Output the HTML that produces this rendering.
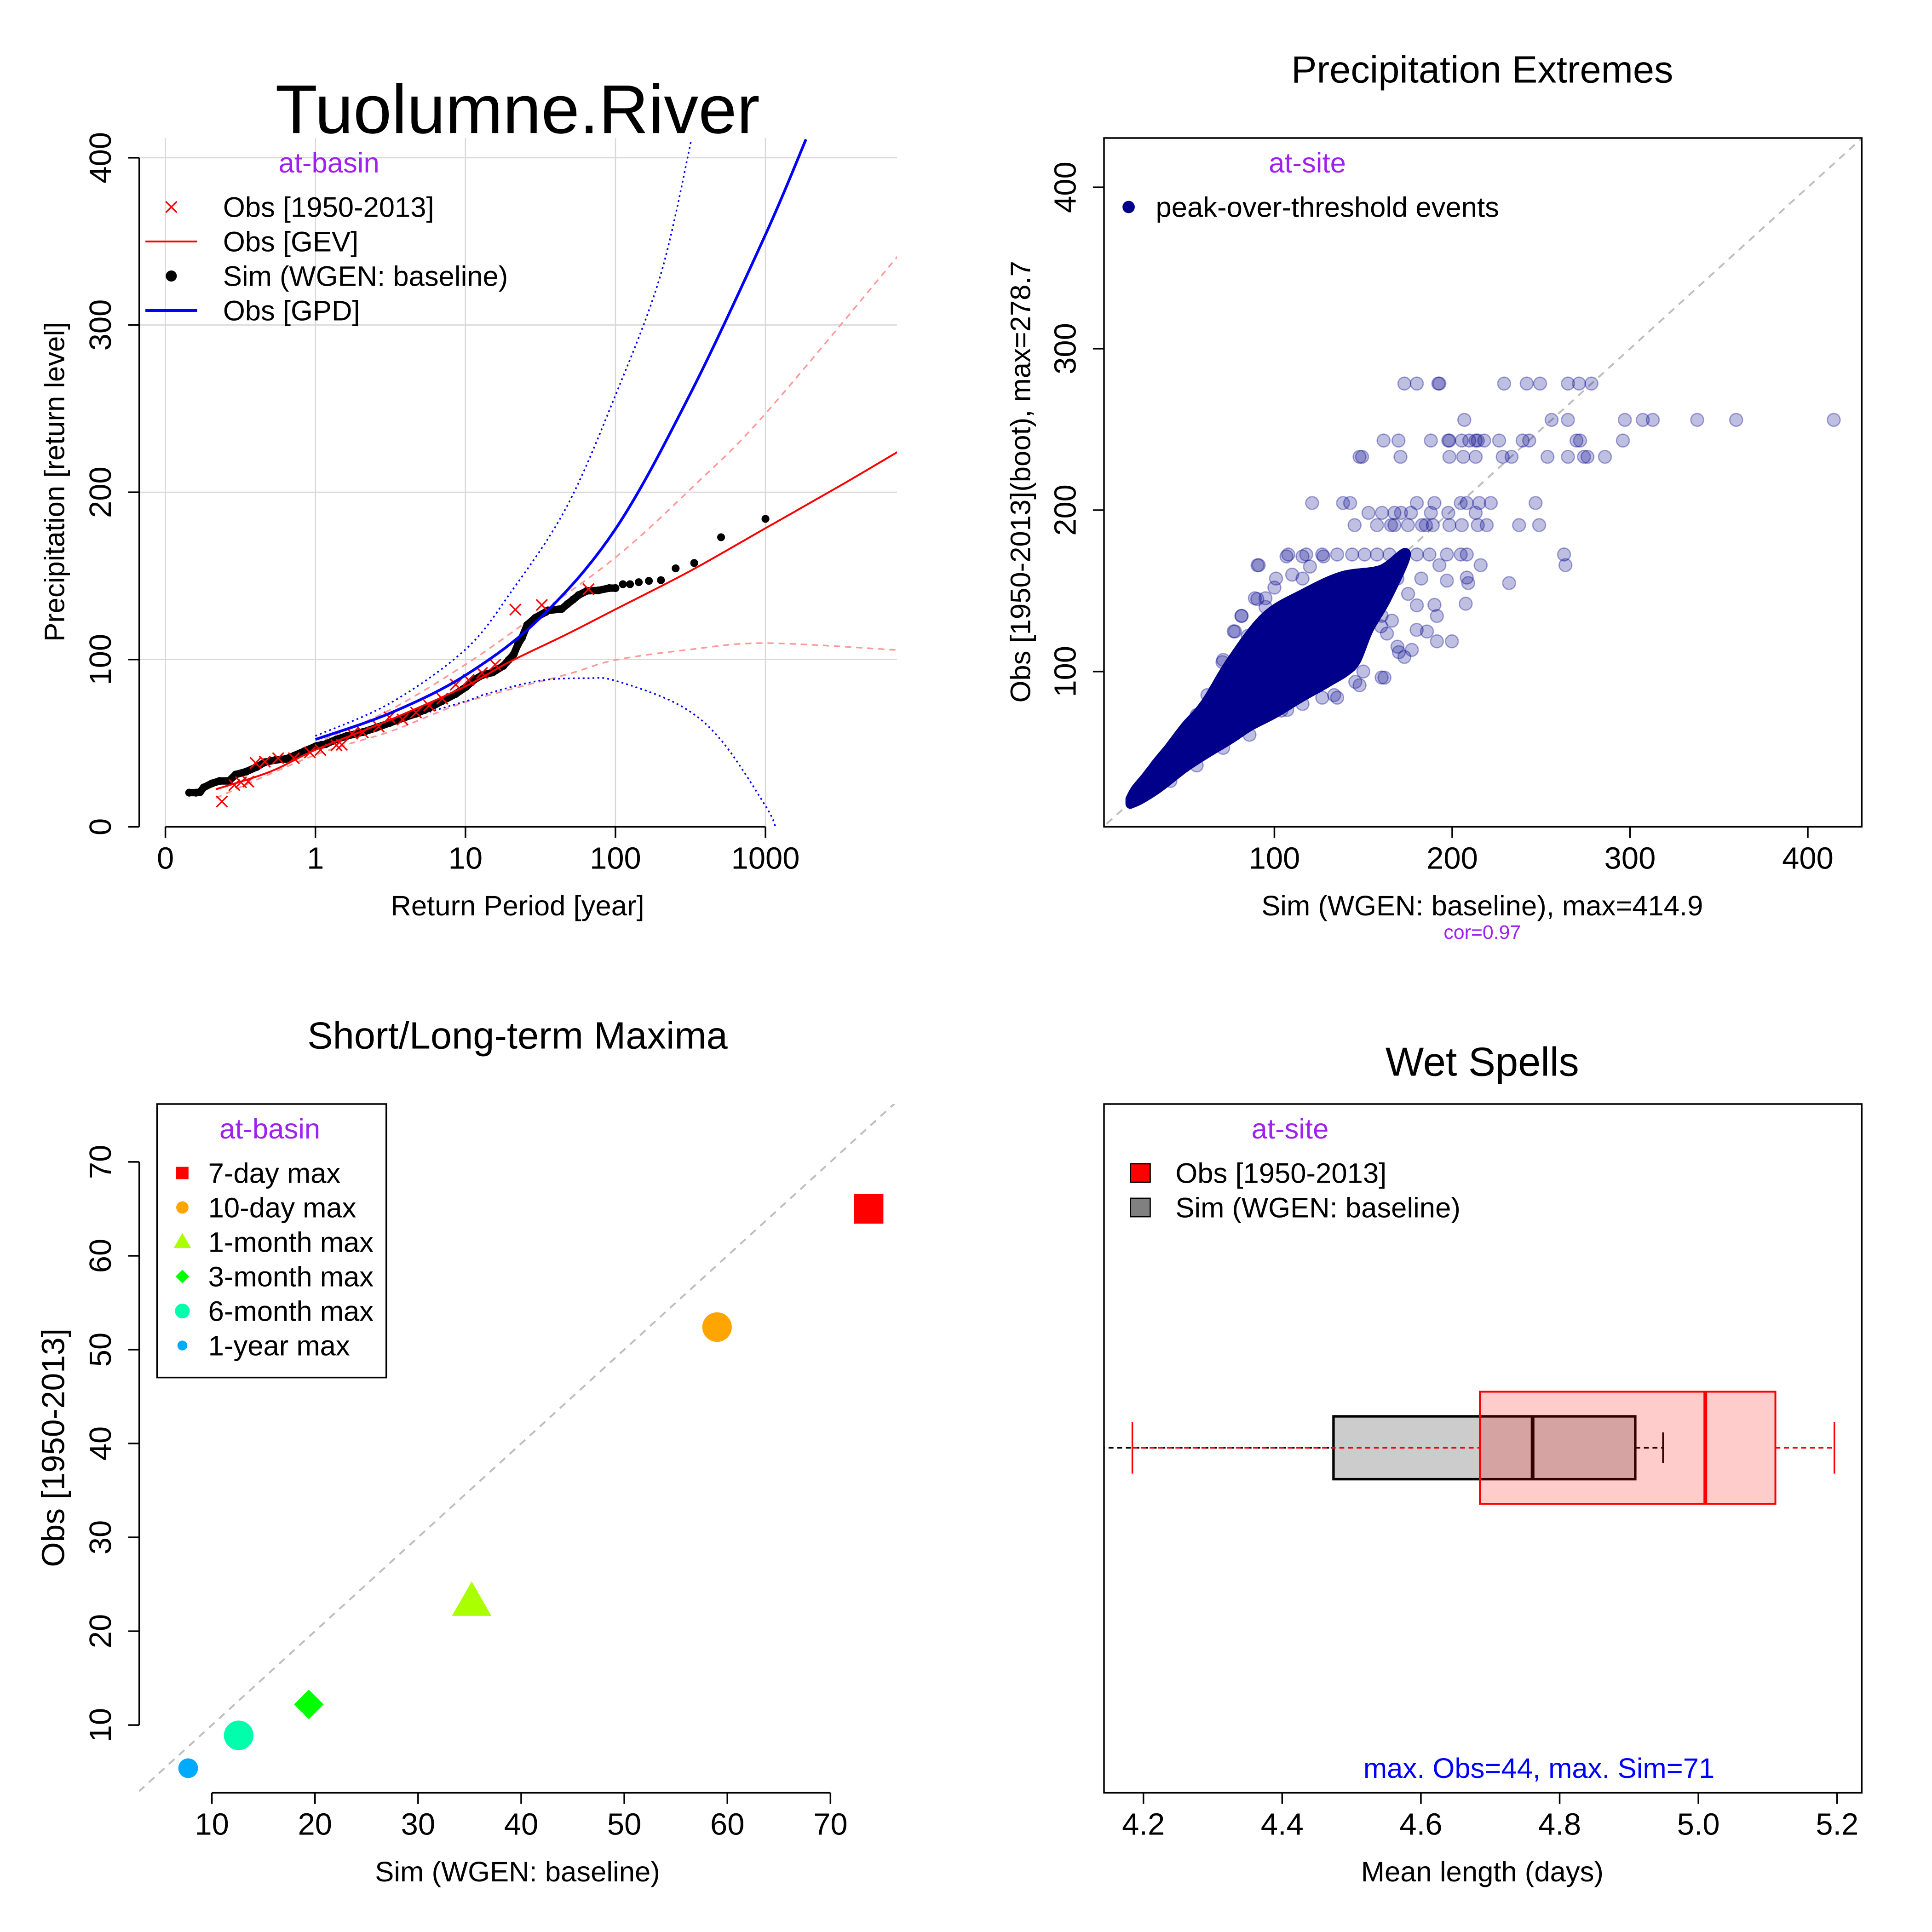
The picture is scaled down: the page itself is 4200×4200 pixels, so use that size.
<!DOCTYPE html>
<html><head><meta charset="utf-8"><title>Tuolumne.River</title>
<style>html,body{margin:0;padding:0;background:#fff}svg{display:block}text{font-family:"Liberation Sans",Arial,sans-serif}</style></head>
<body>
<svg id="fig" xmlns="http://www.w3.org/2000/svg" width="4200" height="4200" viewBox="0 0 1568 1568">
<defs>
<clipPath id="c1"><rect x="113" y="112" width="615" height="559"/></clipPath>
<clipPath id="c2"><rect x="896" y="112" width="615" height="559"/></clipPath>
<clipPath id="c3"><rect x="113" y="896" width="615" height="559"/></clipPath>
<clipPath id="c4"><rect x="896" y="896" width="615" height="559"/></clipPath>
</defs>
<rect x="0" y="0" width="1568" height="1568" fill="#fff"/>
<g id="p1"></g>
<g id="p2"></g>
<g id="p3"></g>
<g id="p4"></g>
</svg>
<script>
// ---------- Panel 1 data (return period in years, precipitation) ----------
const simT=[0.144,0.160,0.170,0.180,0.204,0.230,0.265,0.294,0.346,0.407,0.460,0.541,0.637,0.719,0.847,1.0,1.17,1.38,1.62,2.07,2.54,3.11,3.97,4.68,5.73,7.01,8.61,10.1,11.4,12.9,15.2,17.9,19.4,21.0,22.4,23.8,25.8,29.2,34.3,35.4,43.9,47.9,52.1,56.8,64.6,76.7,91.0,100,112,125,143,167,201,252,335,506,1000];
const simV=[20.4,20.4,20.7,23.5,25.9,27.4,27.4,31.2,33.0,35.8,38.6,39.9,40.6,42.4,45.2,48.0,49.4,52.2,54.3,56.6,59.2,62.0,65.5,67.6,71.0,75.2,79.4,83.6,87.8,90.6,92.3,96.2,99.7,103.2,109.1,113.0,120.7,124.9,128.4,129.3,130.3,133.2,135.8,138.5,141.1,141.3,142.7,142.7,145.0,145.0,146.2,147.0,147.4,154.5,157.7,173.1,184.1];
const obsT=[0.238,0.288,0.319,0.357,0.399,0.460,0.564,0.719,0.918,1.08,1.38,1.50,1.76,2.07,2.64,3.11,3.81,4.68,5.73,7.01,8.61,10.5,12.9,15.8,21.5,32.3,66.1];
const obsV=[15.1,24.9,26.6,27.0,38.2,38.9,41.0,41.0,44.5,45.9,48.7,49.0,55.7,56.4,59.9,65.5,64.1,68.3,72.4,76.6,85.0,87.8,92.0,96.9,129.8,132.6,142];
const gevT=[0.217,0.501,1,3.16,10,19.4,47.1,100,316,1000,3162,7762];
const gevV=[22.4,33,46,64,84,98.3,115,130,153,178.5,204,224.6];
const gevUpT=[0.282,1,3.16,10,25.1,100,344,1000,7762];
const gevUpV=[29,50,70,97,122,161,205,247,342];
const gevLoT=[0.217,1,3.16,10,47.1,100,316,1000,7762];
const gevLoV=[17.2,43,57,74.5,91,99.7,106,109.8,105.6];
const gpdT=[1,3.16,10,31.6,100,316,1000,1862];
const gpdV=[52.2,68,90.6,125,178,259,354,411];
const gpdUpT=[1,3.16,10,20,47.1,100,200,321];
const gpdUpV=[54.3,74,106,140,191,258,330,411];
const gpdLoT=[1,3.16,10,13.8,30.9,64.6,100,266,506,1000,1167];
const gpdLoV=[50,62,75,79.4,87.3,88.8,87.3,72.8,51.8,12.5,0];
const p1XTicks=[0.1,1,10,100,1000];
const p1XLabels=["0","1","10","100","1000"];
const p1YTicks=[0,100,200,300,400];

// ---------- Panel 2 data (sim, obs) ----------
const coreSim=[19,25,35,49,60,75,86,100,115,128,131,140,146,153,163,174,160,138,116,95,76,61,50,41,35,28,22,19];
const coreObs=[18,21,28,40,48,58,66,74,84,92,94,100,107,126,145,173,163,159,148,134,107,80,66,53,45,35,27,21];
const ptSim=[173.1,180.1,192.2,192.8,229.2,241.9,249.4,265.1,271.3,278.3,
206.8,255.9,265.1,297.1,307.2,312.8,337.8,359.7,414.6,
161.4,169.8,188.0,197.8,198.4,205.4,209.6,213.2,214.4,218.0,226.4,239.6,243.3,269.9,271.9,296.0,
147.9,149.3,170.9,198.4,206.2,213.2,228.4,233.4,253.6,265.1,274.1,276.1,285.9,
121.2,138.6,142.6,180.1,190.0,204.8,208.2,215.2,221.7,246.9,
152.9,160.5,167.5,171.2,176.8,188.0,197.8,213.2,
145.1,157.7,165.6,167.5,175.1,183.0,185.2,189.1,198.4,205.4,214.4,219.4,237.6,248.9,
262.9,204.8,208.2,107.8,117.9,126.9,135.3,143.7,150.7,157.7,164.7,180.1,187.2,197.0,
91.2,263.7,216.0,192.8,232.0,209.0,207.6,
191.4,185.8,199.8,191.4,177.3,173.1,161.9,147.9,135.3,77.8,81.4,90.4,70.8,107.2,126.9,180,166.1,180.1,197,208.2,
85,95,100,110,120,140,150,160,170,150,130,118,105,96,88,80,72,66,60,
90.5,106.8,115.8,127.6,81.6,77.1,89,71.2,62.3,56.3,48.9,34,100.9,115.8,95,
163.3,169.2,160.3,145.5,133.6,115.8,103.9,86,71.2,56.3,41.5,175.2,182.6,190,169.2,154.4,160.3,145.5];
const ptObs=[278.4,278.4,278.4,278.4,278.4,278.4,278.4,278.4,278.4,278.4,
255.9,255.9,255.9,255.9,255.9,255.9,255.9,255.9,255.9,
243.1,243.1,243.1,243.1,243.1,243.1,243.1,243.1,243.1,243.1,243.1,243.1,243.1,243.1,243.1,243.1,
233.0,233.0,233.0,233.0,233.0,233.0,233.0,233.0,233.0,233.0,233.0,233.0,233.0,
204.4,204.4,204.4,204.4,204.4,204.4,204.4,204.4,204.4,204.4,
198.3,198.3,198.3,198.3,198.3,198.3,198.3,198.3,
190.7,190.7,190.7,190.7,190.7,190.7,190.7,190.7,190.7,190.7,190.7,190.7,190.7,190.7,
172.5,172.5,172.5,172.5,172.5,172.5,172.5,172.5,172.5,172.5,172.5,172.5,172.5,172.5,
165.9,165.9,165.9,165.9,154.8,154.8,142,
134.4,124.8,118.7,118.7,113.4,109,96.2,91.5,83.8,124.8,134.4,144.9,105.8,76.2,83.8,125.8,131.5,141,156.3,158.2,
122,140,152,160,165,150,140,128,112,100,95,90,85,80,75,70,64,58,52,
165.8,171.3,171.3,171.3,134.5,124.9,145.4,107.2,85.4,73.1,59.5,41.8,157.6,157.6,145.4,
123.5,115.4,96.3,93.6,85.4,79.9,75.8,60.8,52.7,41.8,32.2,148.1,157.6,141.3,157.6,145.4,134.5,120.8];
const p2XTicks=[100,200,300,400];
const p2YTicks=[100,200,300,400];

// ---------- Panel 3 data ----------
const maxCats=["7-day max","10-day max","1-month max","3-month max","6-month max","1-year max"];
const maxSim=[73.7,59.0,35.2,19.4,12.6,7.7];
const maxObs=[65.0,52.4,23.1,12.2,8.9,5.4];
const maxColors=["#FF0000","#FFA500","#AAFF00","#00FF00","#00FFAA","#00AAFF"];
const maxShapes=["square","circle","triangle","diamond","circle","circle"];
const maxSizes=[12,12,16,12,12,8];
const p3XTicks=[10,20,30,40,50,60,70];
const p3YTicks=[10,20,30,40,50,60,70];

// ---------- Panel 4 data (boxplot stats: whiskerLo, q1, median, q3, whiskerHi) ----------
const obsBox=[4.184,4.685,5.010,5.111,5.196];
const simBox=[4.10,4.474,4.761,4.909,4.949];
const p4XTicks=[4.2,4.4,4.6,4.8,5.0,5.2];
const p4XLabels=["4.2","4.4","4.6","4.8","5.0","5.2"];

const NS="http://www.w3.org/2000/svg";
function mk(parent,tag,attrs,txt){const e=document.createElementNS(NS,tag);for(const k in attrs)e.setAttribute(k,attrs[k]);if(txt!==undefined)e.textContent=txt;parent.appendChild(e);return e;}
function smooth(pts){if(pts.length<2)return"";let d="M"+pts[0][0].toFixed(2)+","+pts[0][1].toFixed(2);for(let i=0;i<pts.length-1;i++){const p0=pts[Math.max(0,i-1)],p1=pts[i],p2=pts[i+1],p3=pts[Math.min(pts.length-1,i+2)];const c1x=p1[0]+(p2[0]-p0[0])/6,c1y=p1[1]+(p2[1]-p0[1])/6,c2x=p2[0]-(p3[0]-p1[0])/6,c2y=p2[1]-(p3[1]-p1[1])/6;d+=" C"+c1x.toFixed(2)+","+c1y.toFixed(2)+" "+c2x.toFixed(2)+","+c2y.toFixed(2)+" "+p2[0].toFixed(2)+","+p2[1].toFixed(2);}return d;}
const FS=23;

// ================= Panel 1 =================
(function(){
const g=document.getElementById('p1');
const X=t=>256+121.75*Math.log10(t);
const Y=v=>671-1.3575*v;
let t=mk(g,'text',{x:420,y:108,'font-size':56,'text-anchor':'middle'},'Tuolumne.River');

const grid=mk(g,'g',{stroke:'#d9d9d9','stroke-width':1});

p1XTicks.forEach(v=>{mk(grid,'line',{x1:X(v),x2:X(v),y1:112,y2:671});});
p1YTicks.slice(1).forEach(v=>{mk(grid,'line',{x1:113,x2:728,y1:Y(v),y2:Y(v)});});
const c=mk(g,'g',{'clip-path':'url(#c1)'});
function curve(T,V,col,w,dash,name){const p=mk(c,'path',{d:smooth(T.map((x,i)=>[X(x),Y(V[i])])),fill:'none',stroke:col,'stroke-width':w});if(dash)p.setAttribute('stroke-dasharray',dash);}
curve(gevUpT,gevUpV,'#ff9999',1.3,'5,4','gev-upper-ci');
curve(gevLoT,gevLoV,'#ff9999',1.3,'5,4','gev-lower-ci');
curve(gpdUpT,gpdUpV,'#0000ff',1.3,'1.5,2.5','gpd-upper-ci');
curve(gpdLoT,gpdLoV,'#0000ff',1.3,'1.5,2.5','gpd-lower-ci');
const dense=simT.map((x,i)=>[x,simV[i]]).filter(p=>p[0]<=100);
const tr=mk(c,'path',{d:'M'+dense.map(p=>X(p[0]).toFixed(1)+','+Y(p[1]).toFixed(1)).join(' L'),fill:'none',stroke:'#000','stroke-width':6,'stroke-linejoin':'round','stroke-linecap':'round'});

simT.forEach((x,i)=>{const d=mk(c,'circle',{cx:X(x),cy:Y(simV[i]),r:3.2,fill:'#000'});});
obsT.forEach((x,i)=>{const cx=X(x),cy=Y(obsV[i]);const o=mk(c,'path',{d:`M${cx-4.5},${cy-4.5}L${cx+4.5},${cy+4.5}M${cx-4.5},${cy+4.5}L${cx+4.5},${cy-4.5}`,stroke:'#ff0000','stroke-width':1.2});});
curve(gevT,gevV,'#ff0000',1.5,null,'gev-line');
curve(gpdT,gpdV,'#0000ff',2.2,null,'gpd-line');
const ax=mk(g,'g',{stroke:'#000','stroke-width':1.3});

mk(ax,'line',{x1:X(p1XTicks[0]),x2:X(p1XTicks[p1XTicks.length-1]),y1:671,y2:671});
p1XTicks.forEach((v,i)=>{mk(ax,'line',{x1:X(v),x2:X(v),y1:671,y2:680});const l=mk(g,'text',{x:X(v),y:705,'font-size':FS+2,'text-anchor':'middle'},p1XLabels[i]);});
const ay=mk(g,'g',{stroke:'#000','stroke-width':1.3});

mk(ay,'line',{x1:113,x2:113,y1:Y(0),y2:Y(400)});
p1YTicks.forEach(v=>{mk(ay,'line',{x1:104,x2:113,y1:Y(v),y2:Y(v)});const l=mk(g,'text',{x:90,y:Y(v),'font-size':FS+2,'text-anchor':'middle',transform:`rotate(-90 90 ${Y(v)})`},String(v));});
t=mk(g,'text',{x:420,y:743,'font-size':FS,'text-anchor':'middle'},'Return Period [year]');
t=mk(g,'text',{x:52,y:391,'font-size':FS,'text-anchor':'middle',transform:'rotate(-90 52 391)'},'Precipitation [return level]');
const lg=mk(g,'g',{});
mk(lg,'text',{x:267,y:140,'font-size':FS,'text-anchor':'middle',fill:'#A020F0'},'at-basin');
mk(lg,'path',{d:'M134.5,163.5L143.5,172.5M134.5,172.5L143.5,163.5',stroke:'#f00','stroke-width':1.2});
mk(lg,'line',{x1:118,x2:160,y1:196,y2:196,stroke:'#f00','stroke-width':1.5});
mk(lg,'circle',{cx:139,cy:224,r:4.5,fill:'#000'});
mk(lg,'line',{x1:118,x2:160,y1:252,y2:252,stroke:'#00f','stroke-width':2.2});
['Obs [1950-2013]','Obs [GEV]','Sim (WGEN: baseline)','Obs [GPD]'].forEach((s,i)=>{const e=mk(lg,'text',{x:181,y:176+28*i,'font-size':FS},s);});
})();

// ================= Panel 2 =================
(function(){
const g=document.getElementById('p2');
const X=v=>890+1.443*v;
const Y=v=>676-1.31*v;
let t=mk(g,'text',{x:1203,y:67,'font-size':31,'text-anchor':'middle'},'Precipitation Extremes');
const c=mk(g,'g',{'clip-path':'url(#c2)'});
const dl=mk(c,'line',{x1:X(0),y1:Y(0),x2:X(450),y2:Y(450),stroke:'#bebebe','stroke-width':1.5,'stroke-dasharray':'6,5'});
const core=mk(c,'path',{d:smooth(coreSim.map((s,i)=>[X(s),Y(coreObs[i])]))+'Z',fill:'#00008B',stroke:'#00008B','stroke-width':8,'stroke-linejoin':'round'});

ptSim.forEach((s,i)=>{const p=mk(c,'circle',{cx:X(s),cy:Y(ptObs[i]),r:5.2,fill:'rgba(0,0,139,0.25)',stroke:'rgba(0,0,139,0.35)','stroke-width':1});});
const bx=mk(g,'rect',{x:896,y:112,width:615,height:559,fill:'none',stroke:'#000','stroke-width':1.3});
p2XTicks.forEach(v=>{mk(g,'line',{x1:X(v),x2:X(v),y1:671,y2:680,stroke:'#000','stroke-width':1.3});const l=mk(g,'text',{x:X(v),y:705,'font-size':FS+2,'text-anchor':'middle'},String(v));});
p2YTicks.forEach(v=>{mk(g,'line',{x1:887,x2:896,y1:Y(v),y2:Y(v),stroke:'#000','stroke-width':1.3});const l=mk(g,'text',{x:873,y:Y(v),'font-size':FS+2,'text-anchor':'middle',transform:`rotate(-90 873 ${Y(v)})`},String(v));});
t=mk(g,'text',{x:1203,y:743,'font-size':FS,'text-anchor':'middle'},'Sim (WGEN: baseline), max=414.9');
t=mk(g,'text',{x:1203,y:762,'font-size':16,'text-anchor':'middle',fill:'#A020F0'},'cor=0.97');
t=mk(g,'text',{x:836,y:391,'font-size':FS,'text-anchor':'middle',transform:'rotate(-90 836 391)'},'Obs [1950-2013](boot), max=278.7');
const lg=mk(g,'g',{});
mk(lg,'text',{x:1061,y:140,'font-size':FS,'text-anchor':'middle',fill:'#A020F0'},'at-site');
mk(lg,'circle',{cx:916,cy:168,r:5,fill:'#00008B'});
mk(lg,'text',{x:938,y:176,'font-size':FS},'peak-over-threshold events');
})();

// ================= Panel 3 =================
(function(){
const g=document.getElementById('p3');
const X=v=>88.3+8.367*v;
const Y=v=>1476.2-7.617*v;
let t=mk(g,'text',{x:420,y:851,'font-size':31,'text-anchor':'middle'},'Short/Long-term Maxima');
const c=mk(g,'g',{'clip-path':'url(#c3)'});
const dl=mk(c,'line',{x1:X(0),y1:Y(0),x2:X(90),y2:Y(90),stroke:'#bebebe','stroke-width':1.5,'stroke-dasharray':'6,5'});
function marker(par,shape,cx,cy,s,col){
 if(shape==='square')return mk(par,'rect',{x:cx-s,y:cy-s,width:2*s,height:2*s,fill:col});
 if(shape==='circle')return mk(par,'circle',{cx:cx,cy:cy,r:s,fill:col});
 if(shape==='triangle')return mk(par,'path',{d:`M${cx},${cy-s*1.05}L${cx+s},${cy+s*0.7}L${cx-s},${cy+s*0.7}Z`,fill:col});
 return mk(par,'path',{d:`M${cx},${cy-s}L${cx+s},${cy}L${cx},${cy+s}L${cx-s},${cy}Z`,fill:col});
}
maxCats.forEach((k,i)=>{const m=marker(g,maxShapes[i],X(maxSim[i]),Y(maxObs[i]),maxSizes[i],maxColors[i]);});
const ax=mk(g,'g',{stroke:'#000','stroke-width':1.3});
mk(ax,'line',{x1:X(10),x2:X(70),y1:1455,y2:1455});
p3XTicks.forEach(v=>{mk(ax,'line',{x1:X(v),x2:X(v),y1:1455,y2:1464});const l=mk(g,'text',{x:X(v),y:1489,'font-size':FS+2,'text-anchor':'middle'},String(v));});
const ay=mk(g,'g',{stroke:'#000','stroke-width':1.3});
mk(ay,'line',{x1:113,x2:113,y1:Y(10),y2:Y(70)});
p3YTicks.forEach(v=>{mk(ay,'line',{x1:104,x2:113,y1:Y(v),y2:Y(v)});const l=mk(g,'text',{x:90,y:Y(v),'font-size':FS+2,'text-anchor':'middle',transform:`rotate(-90 90 ${Y(v)})`},String(v));});
t=mk(g,'text',{x:420,y:1527,'font-size':FS,'text-anchor':'middle'},'Sim (WGEN: baseline)');
t=mk(g,'text',{x:52,y:1175,'font-size':26,'text-anchor':'middle',transform:'rotate(-90 52 1175)'},'Obs [1950-2013]');
const lg=mk(g,'g',{});
mk(lg,'rect',{x:127.5,y:896,width:186,height:222,fill:'#fff',stroke:'#000','stroke-width':1.3});
mk(lg,'text',{x:219,y:924,'font-size':FS,'text-anchor':'middle',fill:'#A020F0'},'at-basin');
maxCats.forEach((k,i)=>{const y=952+28*i;marker(lg,maxShapes[i],148,y,[5,5,7,5.5,6,4][i],maxColors[i]);const e=mk(lg,'text',{x:169,y:y+8,'font-size':FS},k);});
})();

// ================= Panel 4 =================
(function(){
const g=document.getElementById('p4');
const X=v=>928+563*(v-4.2);
let t=mk(g,'text',{x:1203,y:873,'font-size':33,'text-anchor':'middle'},'Wet Spells');
const c=mk(g,'g',{'clip-path':'url(#c4)'});
function box(st,cy,h,fill,col,lw,cap,name){
 const b=mk(c,'g',{});
 mk(b,'line',{x1:X(st[0]),x2:X(st[1]),y1:cy,y2:cy,stroke:col,'stroke-width':1.3,'stroke-dasharray':'4,3'});
 mk(b,'line',{x1:X(st[3]),x2:X(st[4]),y1:cy,y2:cy,stroke:col,'stroke-width':1.3,'stroke-dasharray':'4,3'});
 mk(b,'line',{x1:X(st[0]),x2:X(st[0]),y1:cy-cap,y2:cy+cap,stroke:col,'stroke-width':1.3});
 mk(b,'line',{x1:X(st[4]),x2:X(st[4]),y1:cy-cap,y2:cy+cap,stroke:col,'stroke-width':1.3});
 mk(b,'rect',{x:X(st[1]),y:cy-h,width:X(st[3])-X(st[1]),height:2*h,fill:fill,stroke:col,'stroke-width':lw});
 mk(b,'line',{x1:X(st[2]),x2:X(st[2]),y1:cy-h,y2:cy+h,stroke:col,'stroke-width':3});
}
box(simBox,1175,25.5,'rgb(204,204,204)','#000',2,12.5,'sim-boxplot');
box(obsBox,1175,45.5,'rgba(255,0,0,0.2)','#ff0000',1.5,21,'obs-boxplot');
const bx=mk(g,'rect',{x:896,y:896,width:615,height:559,fill:'none',stroke:'#000','stroke-width':1.3});
p4XTicks.forEach((v,i)=>{mk(g,'line',{x1:X(v),x2:X(v),y1:1455,y2:1464,stroke:'#000','stroke-width':1.3});const l=mk(g,'text',{x:X(v),y:1489,'font-size':FS+2,'text-anchor':'middle'},p4XLabels[i]);});
t=mk(g,'text',{x:1203,y:1527,'font-size':FS,'text-anchor':'middle'},'Mean length (days)');
t=mk(g,'text',{x:1249,y:1443,'font-size':FS,'text-anchor':'middle',fill:'#0000ff'},'max. Obs=44, max. Sim=71');
const lg=mk(g,'g',{});
mk(lg,'text',{x:1047,y:924,'font-size':FS,'text-anchor':'middle',fill:'#A020F0'},'at-site');
mk(lg,'rect',{x:917.5,y:944.5,width:16,height:15,fill:'#ff0000',stroke:'#000','stroke-width':1});
mk(lg,'rect',{x:917.5,y:972.5,width:16,height:15,fill:'#808080',stroke:'#000','stroke-width':1});
let e=mk(lg,'text',{x:954,y:960,'font-size':FS},'Obs [1950-2013]');
e=mk(lg,'text',{x:954,y:988,'font-size':FS},'Sim (WGEN: baseline)');
})();
</script>
</body></html>
